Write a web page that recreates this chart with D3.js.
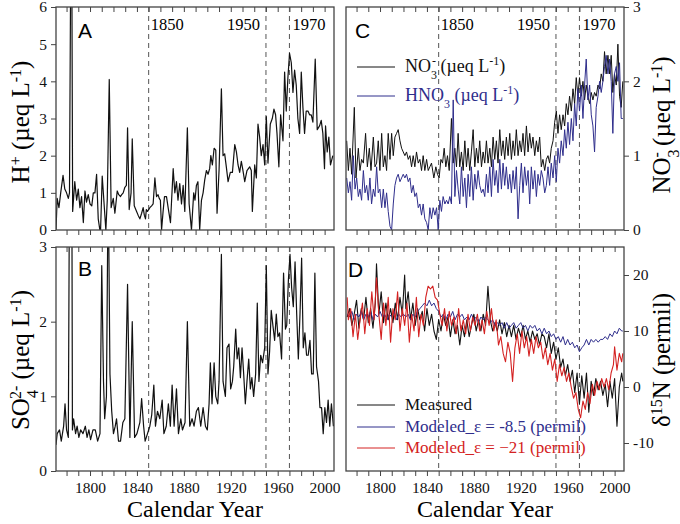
<!DOCTYPE html>
<html>
<head>
<meta charset="utf-8">
<script src="https://cdn.jsdelivr.net/npm/d3@7"></script>
<style>
  body { margin: 0; background: #fff; }
  text { font-family: "Liberation Serif", "Times New Roman", serif; }
</style>
</head>
<body>
<script>
// panel A: H+ (ueq/L) as [year, value]
var hPlus = [[1771,0],[1772,0.85],[1773.5,0.6],[1775,1.0],[1777,1.47],[1778.5,1.1],[1780,1.0],[1781.5,0.85],[1782.5,1.0],[1783.5,7],[1784.5,7],[1785.2,0.5],[1787,1.3],[1788.6,0.8],[1790,1.1],[1791.4,0.6],[1792.8,0.9],[1794.3,0.2],[1795.7,1.05],[1797,0.75],[1798.5,0.95],[1800,0.7],[1801.5,0.65],[1802.8,1.0],[1804.2,1.0],[1805.6,1.5],[1807,0.3],[1808.4,0],[1809,0],[1810.4,1.45],[1812,0.7],[1813.5,0],[1814.7,0.8],[1816.4,4.05],[1818,0.6],[1819.8,0.85],[1821.2,0.45],[1823.2,1.05],[1824.5,0.95],[1826,0.9],[1827,0.95],[1828.3,1.0],[1829.7,1.15],[1831,1.2],[1832,2.75],[1833.4,0.55],[1835,1.0],[1836,2.45],[1837.7,0.65],[1839.7,0.5],[1841,0.4],[1842.5,0.3],[1844,0.45],[1845.3,0.6],[1846.3,0.4],[1847.3,0.3],[1848,0.55],[1849,0.5],[1851,0.6],[1852.5,0.65],[1853.8,0.7],[1855.3,1.4],[1856.7,0.9],[1858,0.95],[1859,0.85],[1860,0.8],[1861,0],[1862.3,0.5],[1863.5,0.9],[1865.2,0.9],[1866.6,0.6],[1868.6,0.2],[1870.9,1.65],[1872.3,1.0],[1873.7,1.3],[1875,0.8],[1876.5,1.25],[1878,0.7],[1879.4,1.2],[1880.8,0.5],[1883,2.75],[1884.5,0.7],[1886.5,0],[1888.4,1.0],[1889.5,0.8],[1890.7,1.2],[1892,1.3],[1893.5,0],[1895,0.8],[1896.4,1.0],[1897.8,1.35],[1899.2,1.6],[1900.6,1.5],[1902,1.65],[1903,2.0],[1904.3,1.75],[1905.8,2.2],[1907.2,2.15],[1908.3,0.45],[1910,1.6],[1912,3.8],[1913.4,2.0],[1914.8,2.05],[1916.2,1.7],[1917.7,1.3],[1919.6,1.55],[1921.4,1.55],[1923.4,2.3],[1924.8,2.1],[1926.2,1.75],[1927.6,1.55],[1929,1.85],[1930.4,1.6],[1931.9,1.3],[1933.8,1.6],[1936.1,1.7],[1937.5,1.6],[1938.4,0.5],[1940.4,1.75],[1941.8,1.4],[1943.2,2.85],[1944.6,2.5],[1946,2.0],[1947.5,2.3],[1948.9,1.75],[1950.3,3.05],[1951.7,1.8],[1953.7,2.85],[1955.4,3.0],[1956.8,3.25],[1958.2,3.1],[1959.4,2.6],[1961,1.7],[1962.5,3.1],[1964.5,2.4],[1965.9,4.25],[1967.3,3.2],[1968.7,4.1],[1970.1,4.75],[1971.6,4.5],[1973,3.7],[1974.4,4.3],[1975.8,3.9],[1977.2,3.0],[1978.7,2.6],[1980.1,4.25],[1981.5,3.3],[1982.9,2.6],[1984.3,3.2],[1985.8,3.2],[1987.2,3.1],[1988.6,3.1],[1990,2.9],[1992,4.6],[1993.7,2.7],[1995.7,2.8],[1997.1,2.95],[1998.5,2.6],[1999.9,1.65],[2000.8,2.8],[2002.2,2.1],[2003.6,2.5],[2005,1.75],[2007,2.0]];

// panel B: SO4 2- (ueq/L)
var sulfate = [[1771,0.35],[1772,0.5],[1774,0.55],[1775.5,0.4],[1777.5,0.6],[1778.7,0.9],[1780,0.55],[1781.5,0.45],[1782.5,4],[1784.5,4],[1785,0.55],[1786,0.7],[1787.7,0.5],[1789,0.6],[1790.5,0.45],[1792,0.55],[1794,0.5],[1796,0.6],[1797.5,0.45],[1799,0.55],[1800.5,0.42],[1802.5,0.55],[1804.5,0.55],[1806.5,0.4],[1808.5,0.5],[1810,2.75],[1811.5,1.2],[1812.5,0.7],[1814,1.0],[1815.5,4],[1817,1.3],[1818.5,0.8],[1820,0.5],[1821.5,0.6],[1822.6,0.7],[1824.3,0.4],[1826,0.4],[1828,0.65],[1829.7,0.7],[1832,2.5],[1834,0.45],[1836,2.0],[1838,0.45],[1840,0.5],[1842.5,0.65],[1844,0.97],[1845.7,0.6],[1847,0.4],[1849,0.5],[1851,0.6],[1852.6,0.75],[1854.4,1.15],[1855.8,0.6],[1857.5,0.8],[1859.5,0.7],[1861.5,0.95],[1863,0.5],[1865,0.6],[1866.8,0.9],[1868.5,0.6],[1870,1.15],[1871.7,0.6],[1873.7,1.1],[1875.4,0.5],[1877.4,0.7],[1878.8,0.55],[1881,0.65],[1883,2.0],[1885,0.6],[1887,0.7],[1888.7,0.6],[1890.7,0.8],[1892.4,0.85],[1894.4,0.6],[1896.4,0.85],[1898.4,0.6],[1900,0.55],[1901.5,0.9],[1902.6,1.45],[1904,0.9],[1905.8,1.45],[1907.2,1.0],[1908.9,0.9],[1910,1.2],[1912,2.9],[1913.4,1.2],[1915.4,1.0],[1916.8,1.65],[1918.5,1.7],[1919.9,1.1],[1921.4,1.2],[1922.5,1.4],[1924.2,1.9],[1925.4,1.5],[1926.8,1.65],[1928.2,1.25],[1929.6,1.65],[1931,1.3],[1932.4,0.9],[1933.8,1.2],[1935.3,1.5],[1936.7,1.1],[1938,1.25],[1939.5,1.0],[1941.2,1.3],[1942.6,2.25],[1944,1.2],[1945.5,1.55],[1947.1,1.45],[1948.9,1.65],[1950.3,2.75],[1951.7,1.3],[1953.1,1.6],[1954.5,2.15],[1955.9,1.95],[1957.4,1.75],[1958.8,2.1],[1960.2,1.8],[1961.6,1.85],[1963.3,1.5],[1965,2.65],[1966.6,1.9],[1967.7,1.95],[1969.1,2.55],[1970.5,2.9],[1971.9,2.45],[1973.3,2.2],[1974.8,2.8],[1976.2,2.1],[1977.6,1.5],[1979,2.1],[1980.4,2.85],[1981.8,1.65],[1983.2,1.85],[1984.6,1.55],[1986,1.55],[1987.5,1.75],[1988.9,1.3],[1990.3,1.3],[1991.7,2.65],[1993.1,1.4],[1994.8,1.2],[1996,0.85],[1997.4,0.85],[1998.8,0.5],[2000.2,0.85],[2001.6,0.65],[2003,0.95],[2004.4,0.6],[2005.8,0.9],[2007.5,0.6]];

// panel C: NO3- and HNO3 (ueq/L)
var nitrate = [[1771.6,1.2],[1773,0.8],[1774.4,1.1],[1775.8,0.75],[1778.1,1.65],[1779.5,0.7],[1781.5,1.1],[1782.9,0.8],[1784.3,0.95],[1785.8,0.9],[1787.7,1.3],[1789.2,0.85],[1790.9,1.1],[1792.3,0.8],[1794.3,1.25],[1795.7,0.85],[1797.1,0.9],[1798.5,1.2],[1799.9,0.8],[1801.4,1.3],[1802.8,0.85],[1804.2,1.0],[1805.6,0.8],[1807,1.3],[1808.5,0.95],[1809.9,1.3],[1811.3,1.0],[1812.7,1.25],[1814.1,1.3],[1815.5,1.35],[1817,1.2],[1818.4,1.1],[1819.8,1.05],[1821.2,1.0],[1822.6,1.05],[1824.1,0.95],[1825.5,1.0],[1826.9,0.85],[1828.3,1.0],[1829.7,0.85],[1831.1,1.05],[1832.6,0.9],[1834,0.95],[1835.4,0.8],[1836.8,1.0],[1838.2,0.8],[1839.7,0.95],[1841.1,0.8],[1842.5,0.85],[1843.9,0.9],[1845.9,0.7],[1847.6,0.85],[1849,0.75],[1850.4,0.7],[1851.9,0.95],[1853.3,0.9],[1854.7,1.1],[1856.1,0.85],[1857.5,1.0],[1859,0.8],[1860.9,1.5],[1862.3,0.9],[1863.8,1.1],[1865.2,0.85],[1866.6,1.3],[1868,0.85],[1869.4,1.05],[1870.9,0.8],[1872.3,1.2],[1873.7,0.85],[1875.1,1.1],[1876.5,0.8],[1877.9,1.05],[1879.4,1.35],[1880.8,0.85],[1882.2,1.1],[1883.6,0.9],[1885,1.2],[1886.5,0.85],[1887.9,1.05],[1889.3,0.9],[1890.7,1.2],[1892.1,0.9],[1893.6,1.1],[1895,0.85],[1896.4,1.25],[1897.8,0.95],[1899.2,1.2],[1900.6,0.9],[1902.1,1.35],[1903.5,1.0],[1904.9,1.2],[1906.3,0.95],[1907.7,1.25],[1909.2,1.0],[1910.6,1.3],[1912,0.95],[1913.4,1.2],[1914.8,1.0],[1916.2,1.35],[1917.7,1.0],[1919.1,1.2],[1920.5,1.05],[1921.9,1.3],[1923.3,1.0],[1924.8,1.4],[1926.2,1.05],[1927.6,1.3],[1929,1.1],[1930.4,1.25],[1931.9,1.0],[1933.3,1.2],[1934.7,1.05],[1936.1,1.25],[1937.5,0.85],[1938.9,0.95],[1940.4,0.8],[1941.8,0.95],[1943.2,1.0],[1944.6,0.9],[1946,1.1],[1947.5,1.2],[1948.9,1.45],[1950.3,1.6],[1951.7,1.3],[1953.1,1.55],[1954.5,1.35],[1956,1.55],[1957.4,1.4],[1958.8,1.7],[1960.2,1.55],[1961.6,1.8],[1963.1,1.6],[1964.5,1.9],[1965.9,1.7],[1967.3,2.05],[1968.7,1.8],[1970.1,2.05],[1971.6,1.8],[1973,2.0],[1974.4,1.75],[1975.8,1.95],[1977.2,1.8],[1978.7,1.7],[1980.1,1.85],[1981.5,1.75],[1982.9,1.85],[1984.3,1.8],[1985.8,1.95],[1987.2,1.9],[1988.6,2.1],[1990,2.0],[1991.4,2.4],[1992.8,2.1],[1994.3,2.35],[1995.7,2.1],[1997.1,2.35],[1998.5,1.85],[1999.9,2.1],[2001.4,1.95],[2002.8,2.5],[2004.2,1.8],[2005.6,1.65],[2007,2.0]];

var hno3 = [[1771.6,0.7],[1773,0.5],[1774.4,0.65],[1775.8,0.4],[1777.2,1.0],[1778.7,0.55],[1780.1,0.7],[1781.5,0.45],[1782.9,0.55],[1784.3,0.4],[1785.8,0.8],[1787.2,0.5],[1788.6,0.6],[1790,0.4],[1791.4,0.7],[1792.8,0.35],[1794.3,0.55],[1795.7,0.45],[1797.1,0.85],[1798.5,0.5],[1799.9,0.55],[1801.4,0.3],[1802.8,0.55],[1804.2,0.3],[1805.6,0.5],[1807,0.25],[1808.5,0.05],[1809.9,0],[1811.3,0.35],[1812.7,0.6],[1814.1,0.7],[1815.5,0.75],[1817,0.65],[1818.4,0.7],[1819.8,0.75],[1821.2,0.7],[1822.6,0.75],[1824.1,0.65],[1825.5,0.7],[1826.9,0.5],[1828.3,0.6],[1829.7,0.45],[1831.1,0.5],[1832.6,0.3],[1834,0.35],[1835.4,0.2],[1836.8,0.35],[1838.2,0.15],[1839.7,0.1],[1841.1,0],[1842.5,0.3],[1843.9,0.15],[1845.3,0.3],[1846.8,0.2],[1848.2,0.3],[1849.6,0],[1851,0.4],[1852.4,0.25],[1853.8,0.45],[1855.3,0.35],[1856.7,0.4],[1858.1,0.35],[1859.5,0.45],[1860.9,0.35],[1862.4,1.75],[1863.8,0.45],[1865.2,0.8],[1866.6,0.55],[1868,0.35],[1869.4,0.85],[1870.9,0.45],[1872.3,0.7],[1873.7,0.3],[1875.1,0.75],[1876.5,0.45],[1877.9,0.85],[1879.4,0.4],[1880.8,0.75],[1882.2,0.55],[1883.6,0.8],[1885,0.6],[1886.5,0.5],[1887.9,0.55],[1889.3,0.45],[1890.7,0.75],[1892.1,0.5],[1893.6,0.85],[1895,0.45],[1896.4,0.95],[1897.8,0.6],[1899.2,0.8],[1900.6,0.5],[1902.1,0.95],[1903.5,0.55],[1904.9,0.9],[1906.3,0.6],[1907.7,0.85],[1909.2,0.55],[1910.6,0.75],[1912,0.5],[1913.4,0.8],[1914.8,0.55],[1916.2,0.85],[1917.7,0.15],[1919.1,0.6],[1920.5,0.9],[1921.9,0.5],[1923.3,0.85],[1924.8,0.6],[1926.2,0.8],[1927.6,0.35],[1929,0.85],[1930.4,0.55],[1931.9,0.8],[1933.3,0.45],[1934.7,0.75],[1936.1,0.6],[1937.5,0.8],[1938.9,0.7],[1940.4,0.5],[1941.8,0.6],[1943.2,0.85],[1944.6,0.6],[1946,0.9],[1947.5,0.7],[1948.9,1.0],[1950.3,0.65],[1951.7,1.1],[1953.1,0.9],[1954.5,1.2],[1956,1.0],[1957.4,1.35],[1958.8,1.1],[1960.2,1.45],[1961.6,1.15],[1963.1,1.5],[1964.5,1.2],[1965.9,1.7],[1967.3,1.4],[1968.7,1.9],[1970.1,1.6],[1971.6,1.95],[1973,1.5],[1974.4,1.95],[1975.8,2.3],[1977.2,1.75],[1978.7,1.95],[1980.1,1.55],[1981.5,1.4],[1982.9,1.05],[1984.3,1.65],[1985.8,1.8],[1987.2,2.0],[1988.6,1.85],[1990,2.0],[1991.4,2.2],[1992.8,2.35],[1994.3,2.1],[1995.7,2.3],[1997.1,2.0],[1998.5,1.3],[1999.9,2.1],[2001.4,2.2],[2002.8,2.0],[2004.2,2.25],[2005.6,1.5],[2007,1.5]];

// panel D: d15N (permil)
var d15Measured = [[1772,12.5],[1774,14],[1776,11],[1778,13],[1780,15.5],[1782,10.5],[1784,14],[1786,12],[1788,16],[1790,11.5],[1792,14],[1794,10.5],[1796,15],[1797,22],[1799,13],[1801,17],[1803,11.5],[1805,15],[1807,12],[1809,14],[1811,11.5],[1813,15],[1815,12],[1817,16],[1819,13],[1821,20],[1822,14],[1824,17],[1826,12],[1828,15],[1830,11],[1832,14],[1834,12],[1836,13.5],[1838,10],[1840,14],[1842,11],[1844,13],[1846,10],[1848,8.5],[1850,12],[1852,10],[1854,13],[1856,11],[1858,12.5],[1860,9],[1862,12],[1864,9.5],[1866,11],[1868,7.5],[1870,11],[1872,9],[1874,12],[1876,9],[1878,11],[1880,13],[1882,10],[1884,12],[1886,10],[1888,13],[1890,11],[1892,18],[1894,12],[1896,10],[1898,11.5],[1900,10],[1902,12],[1904,9.5],[1906,11.5],[1908,9],[1910,11],[1912,9],[1914,11],[1916,8.5],[1918,10.5],[1920,9],[1922,11],[1924,8.5],[1926,10],[1928,8],[1930,10],[1932,8.5],[1934,9.5],[1936,7.5],[1938,9.5],[1940,9],[1942,7],[1944,9.5],[1946,6],[1948,8],[1950,5],[1952,7],[1954,3.5],[1956,5],[1958,2],[1960,4],[1962,1],[1964,3],[1966,-1],[1968,2.5],[1970,-3],[1972,2],[1974,-2],[1976,2.5],[1978,-4.5],[1980,1],[1982,-1.5],[1984,1.5],[1986,-0.5],[1988,1],[1990,-1.5],[1992,0.5],[1994,-3.5],[1996,1],[1998,-2],[2000,1.5],[2002,-7],[2004,0],[2006,2.5],[2007,1]];

var d15Mod85 = [[1772,13],[1774,12.5],[1776,13.5],[1778,12],[1780,13],[1782,12.5],[1784,13.5],[1786,12],[1788,13],[1790,12.5],[1792,13.5],[1794,12],[1796,13],[1798,12.5],[1800,13.5],[1802,12.5],[1804,13],[1806,12],[1808,13],[1810,12.5],[1812,13.5],[1814,12],[1816,13],[1818,12.5],[1820,13],[1822,12.5],[1824,13],[1826,12],[1828,13],[1830,12.5],[1832,13.5],[1834,14],[1836,14.5],[1838,15],[1840,14.5],[1842,15.5],[1844,14.5],[1846,15],[1848,14],[1850,13.5],[1852,12.5],[1854,13],[1856,12],[1858,13],[1860,12.5],[1862,13.5],[1864,12],[1866,13],[1868,12.5],[1870,13],[1872,12],[1874,12.5],[1876,12],[1878,13],[1880,12],[1882,12.5],[1884,11.5],[1886,12.5],[1888,12],[1890,12.5],[1892,12],[1894,11.5],[1896,12],[1898,11],[1900,11.5],[1902,11],[1904,11.5],[1906,10.5],[1908,11.5],[1910,10.5],[1912,11],[1914,11.5],[1916,10.5],[1918,11],[1920,11.5],[1922,10.5],[1924,11],[1926,10],[1928,11],[1930,10.5],[1932,11],[1934,10],[1936,10.5],[1938,9.5],[1940,10.5],[1942,9.5],[1944,10],[1946,9],[1948,9.5],[1950,8.5],[1952,9],[1954,8],[1956,9],[1958,7.5],[1960,8.5],[1962,7.5],[1964,8],[1966,7],[1968,7.5],[1970,6.3],[1972,7],[1974,7.5],[1976,8.5],[1978,7.5],[1980,8.5],[1982,8],[1984,8.5],[1986,8],[1988,8.5],[1990,8.5],[1992,9],[1994,8.5],[1996,9.5],[1998,9],[2000,10],[2002,9.5],[2004,10.5],[2006,10],[2007,10]];

var d15Mod21 = [[1772,16],[1773,12],[1775,14],[1777,9],[1779,13],[1781,8.5],[1783,12],[1785,15],[1787,9.5],[1789,14],[1791,11],[1793,17],[1795,12],[1797,19.5],[1799,13],[1801,8.5],[1803,15],[1805,11],[1807,16],[1809,8],[1811,14],[1813,12],[1815,17],[1817,10],[1819,14],[1821,11],[1823,15],[1825,8],[1827,13],[1829,10],[1831,16],[1833,9],[1835,13],[1837,11],[1839,16],[1841,18],[1843,17.5],[1845,18],[1847,16],[1849,15.5],[1851,13],[1853,11],[1855,14],[1857,10],[1859,13.5],[1861,11],[1863,12.5],[1865,9.5],[1867,14],[1869,10],[1871,12],[1873,9.5],[1875,13],[1877,10],[1879,12.5],[1881,11],[1883,13],[1885,10],[1887,12],[1889,9.5],[1891,13.5],[1893,11],[1895,14],[1897,10],[1899,12],[1901,7.5],[1903,9],[1905,6],[1907,4.5],[1909,8],[1911,6],[1913,1],[1915,7],[1917,9.5],[1919,6],[1921,10],[1923,7],[1925,9],[1927,5.5],[1929,8.5],[1931,6],[1933,9],[1935,7],[1937,8],[1939,5],[1941,7],[1943,4],[1945,6],[1947,3],[1949,5],[1951,1],[1953,4],[1955,2],[1957,3.5],[1959,1],[1961,2.5],[1963,0],[1965,-2],[1967,-1],[1969,-4],[1971,-5.5],[1973,-2.5],[1975,-4],[1977,-1],[1979,-3],[1981,0.5],[1983,-1.5],[1985,1],[1987,-0.5],[1989,1.5],[1991,0],[1993,1.5],[1995,-0.5],[1997,2.5],[1999,4],[2000,7.2],[2002,3],[2004,6],[2006,4.5],[2007,6]];

// ticks and marker years
var decadeTicks = [1780,1790,1800,1810,1820,1830,1840,1850,1860,1870,1880,1890,1900,1910,1920,1930,1940,1950,1960,1970,1980,1990,2000];
var labelYears = [1800,1840,1880,1920,1960,2000];
var markerYears = [1850,1950,1970];
var hTicks = [0,1,2,3,4,5,6];
var so4Ticks = [0,1,2,3];
var no3Ticks = [0,1,2,3];
var d15Ticks = [-10,0,10,20];

var blue = "#2f2e8c", red = "#d42222", frame = "#444";
var serif = "Liberation Serif";

var svg = d3.select("body").append("svg")
    .attr("width", 680)
    .attr("height", 524);

var panels = [
  {name:"A", left:56,  top:7,   w:278, h:223, dom:[0,6],    ticks:hTicks,  side:"left",  bottomLabels:false, lx:22, ly:31},
  {name:"B", left:56,  top:247, w:278, h:224, dom:[0,3],    ticks:so4Ticks,side:"left",  bottomLabels:true,  lx:22, ly:29},
  {name:"C", left:346, top:7,   w:278, h:223, dom:[0,3],    ticks:no3Ticks,side:"right", bottomLabels:false, lx:9,  ly:31},
  {name:"D", left:346, top:247, w:278, h:224, dom:[-15,25], ticks:d15Ticks,side:"right", bottomLabels:true,  lx:2,  ly:30}
];

panels.forEach(function(p) {
  var g = svg.append("g").attr("transform", "translate(" + p.left + "," + p.top + ")");
  p.g = g;
  p.x = d3.scaleLinear().domain([1771, 2008]).range([0, p.w]);
  p.y = d3.scaleLinear().domain(p.dom).range([p.h, 0]);

  g.append("clipPath").attr("id", "clip" + p.name)
    .append("rect").attr("width", p.w).attr("height", p.h);

  // bottom ticks (outward), labels only on lower panels
  var bx = g.append("g").attr("transform", "translate(0," + p.h + ")")
    .call(d3.axisBottom(p.x).tickValues(decadeTicks).tickSize(5).tickPadding(6)
      .tickFormat(function(d) { return (p.bottomLabels && labelYears.indexOf(d) >= 0) ? String(d) : ""; }));
  // top ticks point inward
  var tx = g.append("g")
    .call(d3.axisTop(p.x).tickValues(decadeTicks).tickSize(-5).tickFormat(""));

  var ya = p.side == "left"
    ? g.append("g").call(d3.axisLeft(p.y).tickValues(p.ticks).tickSize(5).tickPadding(4).tickFormat(String))
    : g.append("g").attr("transform", "translate(" + p.w + ",0)")
        .call(d3.axisRight(p.y).tickValues(p.ticks).tickSize(5).tickPadding(4).tickFormat(String));

  [bx, tx, ya].forEach(function(a) {
    a.attr("font-family", serif);
    a.select(".domain").remove();
    a.selectAll("line").attr("stroke", frame);
    a.selectAll("text").filter(function() { return this.textContent == ""; }).remove();
    a.selectAll("text").attr("fill", "#111")
      .style("font-family", serif)
      .style("font-size", "15.5px");
  });

  // dashed reference years
  g.selectAll(".mark").data(markerYears).enter().append("line")
    .attr("x1", function(d) { return p.x(d); })
    .attr("x2", function(d) { return p.x(d); })
    .attr("y1", 0).attr("y2", p.h)
    .attr("stroke", "#555").attr("stroke-width", 1)
    .attr("stroke-dasharray", "5,4");
});

function drawLine(p, data, color, width) {
  var line = d3.line()
    .x(function(d) { return p.x(d[0]); })
    .y(function(d) { return p.y(d[1]); });
  p.g.append("path")
    .datum(data)
    .attr("clip-path", "url(#clip" + p.name + ")")
    .attr("fill", "none")
    .attr("stroke", color)
    .attr("stroke-width", width)
    .attr("stroke-linejoin", "round")
    .attr("d", line);
}

drawLine(panels[0], hPlus, "#111", 1.2);
drawLine(panels[1], sulfate, "#111", 1.2);
drawLine(panels[2], nitrate, "#111", 1);
drawLine(panels[2], hno3, blue, 1);
drawLine(panels[3], d15Measured, "#111", 1.1);
drawLine(panels[3], d15Mod85, blue, 1);
drawLine(panels[3], d15Mod21, red, 1.1);

// frames and panel letters
panels.forEach(function(p) {
  p.g.append("rect").attr("width", p.w).attr("height", p.h)
    .attr("fill", "none").attr("stroke", frame).attr("stroke-width", 1.3);
  p.g.append("text")
    .attr("x", p.lx)
    .attr("y", p.ly)
    .style("font-family", "Liberation Sans")
    .style("font-size", "21px")
    .text(p.name);
});

// year labels on top panels
[panels[0], panels[2]].forEach(function(p) {
  var lbl = p.g.append("g").style("font-size", "16.5px");
  lbl.append("text").attr("x", p.x(1850) + 2).attr("y", 23).text("1850");
  lbl.append("text").attr("x", p.x(1950) - 6).attr("y", 23).attr("text-anchor", "end").text("1950");
  lbl.append("text").attr("x", p.x(1970) + 3).attr("y", 23).text("1970");
});

// y axis titles
function yTitle(cx, cy, parts) {
  var t = svg.append("text")
    .attr("transform", "translate(" + cx + "," + cy + ") rotate(-90)")
    .attr("text-anchor", "middle")
    .style("font-family", serif)
    .style("font-size", "25px");
  parts.forEach(function(s) {
    var ts = t.append("tspan").text(s[0]);
    if (s[1] == "sup") ts.attr("baseline-shift", "super").style("font-size", "16px");
    if (s[1] == "sub") ts.attr("baseline-shift", "sub").style("font-size", "16px");
    if (s[2]) ts.attr("dx", s[2]);
  });
}
yTitle(29, 122, [["H"], ["+", "sup"], [" (µeq L"], ["-1", "sup"], [")"]]);
yTitle(29, 360, [["SO"], ["4", "sub"], ["2-", "sup", -9], [" (µeq L"], ["-1", "sup"], [")"]]);
yTitle(670, 125, [["NO"], ["3", "sub"], ["-", "sup", -8], [" (µeq L"], ["-1", "sup"], [")"]]);
yTitle(670, 360, [["δ"], ["15", "sup"], ["N (permil)"]]);

// x axis titles
svg.append("text").attr("x", 195).attr("y", 517).attr("text-anchor", "middle")
  .style("font-size", "24px").text("Calendar Year");
svg.append("text").attr("x", 485).attr("y", 517).attr("text-anchor", "middle")
  .style("font-size", "24px").text("Calendar Year");

// legends
function legendRow(p, y, color, size, parts) {
  p.g.append("line").attr("x1", 11).attr("x2", 49).attr("y1", y).attr("y2", y)
    .attr("stroke", color).attr("stroke-width", 1);
  var t = p.g.append("text").attr("x", 59).attr("y", y + 5)
    .attr("fill", color).style("font-size", size + "px");
  parts.forEach(function(s) {
    var ts = t.append("tspan").text(s[0]);
    if (s[1] == "sup") ts.attr("baseline-shift", "super").style("font-size", "12px");
    if (s[1] == "sub") ts.attr("baseline-shift", "sub").style("font-size", "12px");
    if (s[2]) ts.attr("dx", s[2]);
  });
}
legendRow(panels[2], 60, "#111", 18, [["NO"], ["3", "sub"], ["-", "sup", -5], [" (µeq L"], ["-1", "sup"], [")"]]);
legendRow(panels[2], 89, blue, 18, [["HNO"], ["3", "sub"], [" (µeq L"], ["-1", "sup"], [")"]]);
legendRow(panels[3], 158, "#111", 17, [["Measured"]]);
legendRow(panels[3], 180, blue, 17, [["Modeled_ε = -8.5 (permil)"]]);
legendRow(panels[3], 201, red, 17, [["Modeled_ε = −21 (permil)"]]);
</script>
</body>
</html>
